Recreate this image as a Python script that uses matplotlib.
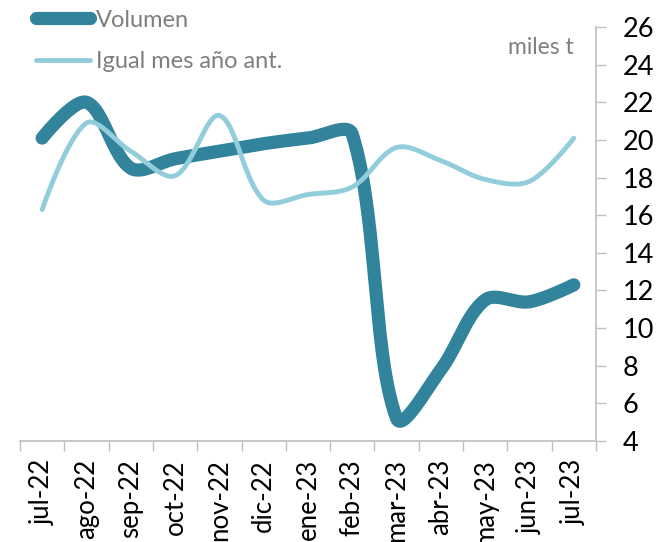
import numpy as np
import matplotlib
matplotlib.use("Agg")
import matplotlib.pyplot as plt
from matplotlib.ticker import FixedLocator, NullFormatter

# volumen mensual (miles t) y mismo mes del año anterior
meses = ["jul-22", "ago-22", "sep-22", "oct-22", "nov-22", "dic-22", "ene-23",
         "feb-23", "mar-23", "abr-23", "may-23", "jun-23", "jul-23"]
volumen = [20.1, 22.0, 18.5, 19.0, 19.4, 19.8, 20.1, 20.3, 5.2, 7.8, 11.5, 11.4, 12.3]
anio_ant = [16.3, 20.9, 19.4, 18.1, 21.3, 16.8, 17.1, 17.5, 19.6, 18.9, 17.9, 17.8, 20.1]

AZUL = "#31849B"
CELESTE = "#92CDDC"
GRIS = "#7F7F7F"
EJE = "#BFBFBF"

plt.rcParams["font.family"] = ["Lato", "DejaVu Sans"]


def suavizar(x, y, escala_y=0.425, k=1 / 3, n=30):
    """Linea suavizada con tramos Bezier; tangentes repartidas segun
    la longitud de los tramos vecinos para no pasarse en los saltos."""
    p = np.column_stack([np.asarray(x, float), np.asarray(y, float) * escala_y])
    m = len(p)
    d = np.hypot(*np.diff(p, axis=0).T)
    sal, ent = p.copy(), p.copy()
    for i in range(1, m - 1):
        tg = p[i + 1] - p[i - 1]
        tot = d[i - 1] + d[i]
        sal[i] = p[i] + tg * k * d[i] / tot
        ent[i] = p[i] - tg * k * d[i - 1] / tot
    t = np.linspace(0, 1, n)[:, None]
    trozos = []
    for i in range(m - 1):
        a, b, c, e = p[i], sal[i], ent[i + 1], p[i + 1]
        trozos.append((1 - t) ** 3 * a + 3 * (1 - t) ** 2 * t * b
                      + 3 * (1 - t) * t ** 2 * c + t ** 3 * e)
    q = np.vstack(trozos)
    return q[:, 0], q[:, 1] / escala_y


fig = plt.figure(figsize=(6.56, 5.42), dpi=100)
ax = fig.add_axes([0.0305, 0.1863, 0.878, 0.7638])

x = np.arange(len(meses))
sx, sy = suavizar(x, volumen)
ax.plot(sx, sy, color=AZUL, lw=9.5, solid_capstyle="round",
        solid_joinstyle="round", label="Volumen", zorder=2)
sx, sy = suavizar(x, anio_ant)
ax.plot(sx, sy, color=CELESTE, lw=3.5, solid_capstyle="round",
        solid_joinstyle="round", label="Igual mes año ant.", zorder=3)

ax.set_xlim(-0.5, len(meses) - 0.5)
ax.set_ylim(4, 26)
ax.set_yticks(np.arange(4, 27, 2))
ax.yaxis.tick_right()
ax.tick_params(axis="y", direction="out", length=7, width=1, color=EJE,
               labelsize=19.5, pad=12)

# marcas del eje x entre categorias, etiquetas en el centro
ax.xaxis.set_major_locator(FixedLocator(np.arange(-0.5, len(meses), 1)))
ax.xaxis.set_major_formatter(NullFormatter())
ax.xaxis.set_minor_locator(FixedLocator(x))
ax.set_xticklabels(meses, minor=True, rotation=90, fontsize=18.5)
ax.tick_params(axis="x", which="major", direction="out", length=7, width=1,
               color=EJE)
ax.tick_params(axis="x", which="minor", length=0, pad=13)

for s in ("top", "left"):
    ax.spines[s].set_visible(False)
for s in ("right", "bottom"):
    ax.spines[s].set_color(EJE)
    ax.spines[s].set_linewidth(1.2)

leg = ax.legend(loc="upper left", bbox_to_anchor=(0.055, 0.982),
                bbox_transform=fig.transFigure, frameon=False, fontsize=17,
                handlelength=2.3, handletextpad=0.25, labelspacing=0.85,
                borderpad=0, borderaxespad=0)
for txt in leg.get_texts():
    txt.set_color(GRIS)

fig.text(0.774, 0.9, "miles t", color=GRIS, fontsize=16.5)

fig.savefig("out.png", dpi=100)
